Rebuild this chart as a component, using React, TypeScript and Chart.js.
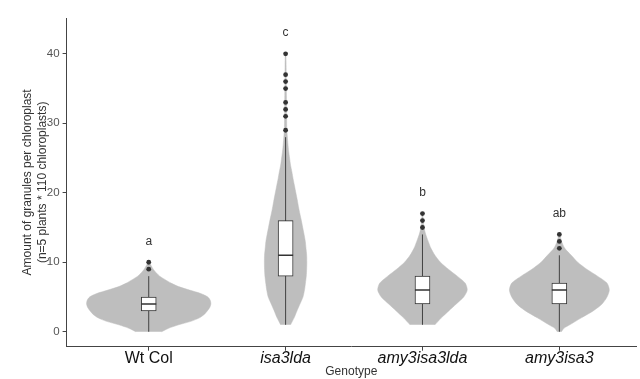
import React, { useEffect, useRef } from 'react';
import { Chart, registerables } from 'chart.js';

Chart.register(...registerables);

// ---------- data ----------
const categories = ['Wt Col', 'isa3lda', 'amy3isa3lda', 'amy3isa3'];
const yTicks = [0, 10, 20, 30, 40];

const q1 = [3, 8, 4, 4];
const median = [4, 11, 6, 6];
const q3 = [5, 16, 8, 7];
const whiskerLow = [0, 1, 1, 0];
const whiskerHigh = [8, 28, 14, 11];

const outliersWtCol = [9, 10];
const outliersIsa3lda = [29, 31, 32, 33, 35, 36, 37, 40];
const outliersAmy3isa3lda = [15, 16, 17];
const outliersAmy3isa3 = [12, 13, 14];

const letters = ['a', 'c', 'b', 'ab'];
const letterY = [13, 43, 20, 17];

// violin outlines: value levels and half-widths (in category units)
const violinWtColY = [0, 0.5, 1, 1.5, 2, 2.5, 3, 3.5, 4, 4.5, 5, 5.5, 6, 6.5, 7, 7.5, 8, 8.5, 9, 9.5, 10];
const violinWtColW = [0.094, 0.145, 0.218, 0.308, 0.370, 0.406, 0.428, 0.446, 0.454, 0.450, 0.432, 0.380, 0.298, 0.218, 0.163, 0.120, 0.080, 0.054, 0.033, 0.018, 0.004];

const violinIsa3ldaY = [1, 2, 3, 4, 5, 6, 7, 8, 9, 10, 11, 12, 13, 14, 15, 16, 17, 18, 19, 20, 21, 22, 23, 24, 25, 26, 27, 28, 29, 30, 32, 34, 36, 38, 40];
const violinIsa3ldaW = [0.036, 0.062, 0.083, 0.105, 0.127, 0.138, 0.145, 0.151, 0.154, 0.155, 0.154, 0.149, 0.144, 0.135, 0.125, 0.115, 0.104, 0.094, 0.085, 0.075, 0.065, 0.055, 0.046, 0.036, 0.029, 0.022, 0.017, 0.013, 0.009, 0.008, 0.007, 0.006, 0.005, 0.004, 0.002];

const violinAmy3isa3ldaY = [1, 2, 3, 4, 5, 6, 7, 8, 9, 10, 11, 12, 13, 14, 15, 16, 17];
const violinAmy3isa3ldaW = [0.091, 0.138, 0.192, 0.247, 0.301, 0.327, 0.312, 0.254, 0.189, 0.131, 0.091, 0.062, 0.042, 0.024, 0.011, 0.006, 0.002];

const violinAmy3isa3Y = [0, 0.5, 1, 2, 3, 4, 5, 6, 7, 8, 9, 10, 11, 12, 13, 14];
const violinAmy3isa3W = [0.015, 0.033, 0.076, 0.160, 0.247, 0.312, 0.348, 0.365, 0.348, 0.279, 0.200, 0.134, 0.087, 0.040, 0.016, 0.003];

// ---------- styles ----------
const FONT = "'Liberation Sans', Arial, sans-serif";
const VIOLIN = '#bebebe';
const INK = '#333333';
const BOX_HALF = 0.055;

const violins = [
  [violinWtColY, violinWtColW],
  [violinIsa3ldaY, violinIsa3ldaW],
  [violinAmy3isa3ldaY, violinAmy3isa3ldaW],
  [violinAmy3isa3Y, violinAmy3isa3W],
];
const outliers = [outliersWtCol, outliersIsa3lda, outliersAmy3isa3lda, outliersAmy3isa3];

function violinPoints(i: number, ys: number[], ws: number[]) {
  const left = ys.map((y, k) => ({ x: i - ws[k], y }));
  const right = ys.map((y, k) => ({ x: i + ws[k], y })).reverse();
  return [...left, ...right];
}

const lettersPlugin = {
  id: 'sigLetters',
  afterDatasetsDraw(chart: any) {
    const { ctx, scales } = chart;
    ctx.save();
    ctx.font = `12px ${FONT}`;
    ctx.fillStyle = INK;
    ctx.textAlign = 'center';
    ctx.textBaseline = 'middle';
    letters.forEach((t, i) => {
      ctx.fillText(t, scales.x.getPixelForValue(i), scales.y.getPixelForValue(letterY[i]));
    });
    ctx.restore();
  },
};

export default function App() {
  const ref = useRef<HTMLCanvasElement>(null);
  useEffect(() => {
    const datasets: any[] = [];
    violins.forEach(([ys, ws], i) => {
      datasets.push({
        type: 'line',
        data: violinPoints(i, ys, ws),
        showLine: true,
        fill: 'shape',
        backgroundColor: VIOLIN,
        borderColor: VIOLIN,
        borderWidth: 0.5,
        pointRadius: 0,
        tension: 0.25,
        order: 5,
      });
    });
    const whiskerData: any[] = [];
    categories.forEach((_, i) => {
      whiskerData.push({ x: i, y: whiskerLow[i] }, { x: i, y: whiskerHigh[i] }, { x: i, y: null });
    });
    datasets.push({
      type: 'line',
      data: whiskerData,
      borderColor: INK,
      borderWidth: 0.9,
      pointRadius: 0,
      spanGaps: false,
      fill: false,
      order: 4,
    });
    datasets.push({
      type: 'bar',
      data: categories.map((_, i) => ({ x: i, y: [q1[i], q3[i]] })),
      backgroundColor: '#ffffff',
      borderColor: INK,
      borderWidth: 1,
      borderSkipped: false,
      barThickness: 15,
      order: 3,
    });
    const medData: any[] = [];
    categories.forEach((_, i) => {
      medData.push({ x: i - BOX_HALF, y: median[i] }, { x: i + BOX_HALF, y: median[i] }, { x: i, y: null });
    });
    datasets.push({
      type: 'line',
      data: medData,
      borderColor: INK,
      borderWidth: 1.6,
      pointRadius: 0,
      spanGaps: false,
      fill: false,
      order: 2,
    });
    const outData: any[] = [];
    outliers.forEach((arr, i) => arr.forEach((v) => outData.push({ x: i, y: v })));
    datasets.push({
      type: 'scatter',
      data: outData,
      pointRadius: 2.4,
      pointBackgroundColor: INK,
      pointBorderWidth: 0,
      showLine: false,
      order: 1,
    });

    const chart = new Chart(ref.current as HTMLCanvasElement, {
      type: 'line',
      data: { datasets },
      options: {
        animation: false,
        responsive: false,
        events: [],
        layout: { padding: { top: 18, left: 0, right: 0, bottom: 0 } },
        plugins: { legend: { display: false }, tooltip: { enabled: false } },
        scales: {
          x: {
            type: 'linear',
            min: -0.6,
            max: 3.56,
            bounds: 'data',
            offset: false,
            afterFit: (s: any) => { s.height = 32.3; },
            afterBuildTicks: (s: any) => { s.ticks = categories.map((_, i) => ({ value: i })); },
            grid: { display: true, offset: false, drawOnChartArea: false, drawTicks: true, tickLength: 4, color: '#444', tickColor: '#444' },
            border: { display: true, color: '#444', width: 1 },
            ticks: {
              padding: 0,
              color: '#111',
              maxRotation: 0,
              autoSkip: false,
              font: (c: any) => ({ family: FONT, size: 16, lineHeight: 1, style: c.index === 0 ? 'normal' : 'italic' }),
              callback: (_v: any, i: number) => categories[i],
            },
            title: { display: true, text: 'Genotype', color: INK, font: { family: FONT, size: 12, lineHeight: 1.2 }, padding: { top: 0, bottom: 0 } },
          },
          y: {
            type: 'linear',
            min: -2.15,
            max: 45.15,
            bounds: 'data',
            afterFit: (s: any) => { s.width = 66.6; },
            afterBuildTicks: (s: any) => { s.ticks = yTicks.map((v) => ({ value: v })); },
            grid: { display: true, drawOnChartArea: false, drawTicks: true, tickLength: 4, color: '#444', tickColor: '#444' },
            border: { display: true, color: '#444', width: 1 },
            ticks: { padding: 3, color: '#555', font: { family: FONT, size: 11.5 }, callback: (v: any) => String(v) },
            title: {
              display: true,
              text: ['Amount of granules per chloroplast', '(n=5 plants * 110 chloroplasts)'],
              color: INK,
              font: { family: FONT, size: 12, lineHeight: 1.25 },
              padding: { top: 20, bottom: 0 },
            },
          },
        },
      },
      plugins: [lettersPlugin],
    } as any);
    return () => chart.destroy();
  }, []);
  return (
    <div style={{ position: 'absolute', left: 0, top: 0, width: 640, height: 379, background: '#fff' }}>
      <canvas ref={ref} width={640} height={379} style={{ display: 'block' }} />
    </div>
  );
}
